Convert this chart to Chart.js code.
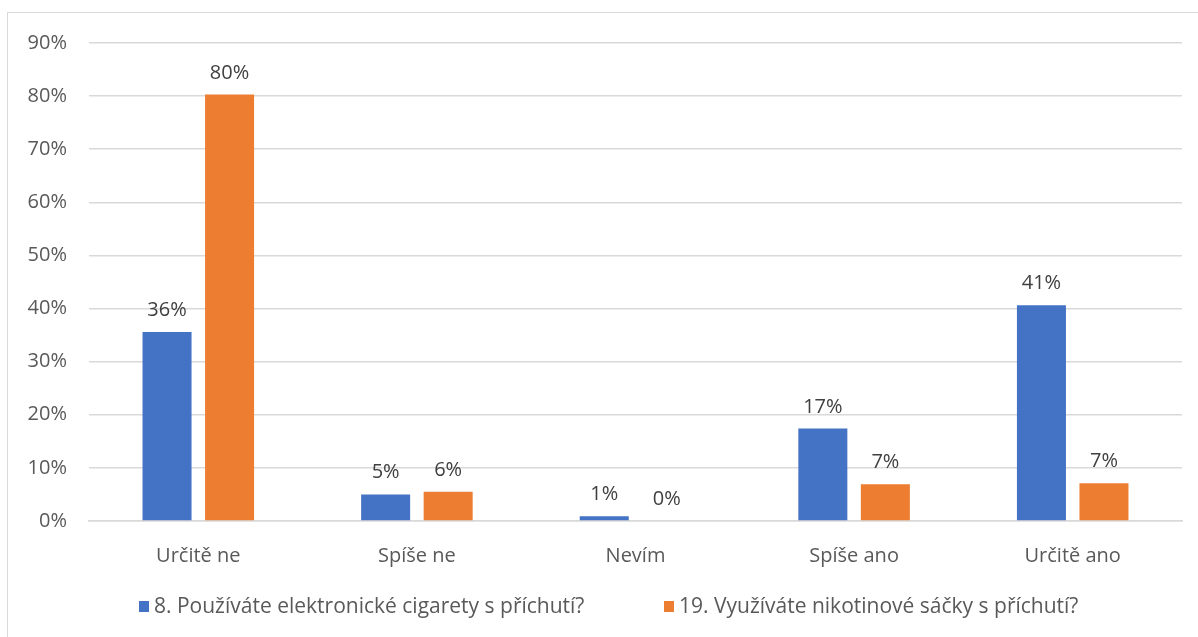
<!DOCTYPE html>
<html>
<head>
<meta charset="utf-8">
<script src="https://cdn.jsdelivr.net/npm/chart.js@4"></script>
<style>
  html, body { margin: 0; padding: 0; background: #ffffff; overflow: hidden; }
  #box { position: absolute; left: 7px; top: 12px; width: 1200px; height: 640px; border: 1px solid #d9d9d9; box-sizing: border-box; }
  #wrap { position: absolute; left: 0; top: 0; width: 1198px; height: 637px; }
</style>
</head>
<body>
<div id="box"></div>
<div id="wrap"><canvas id="c" width="1198" height="637"></canvas></div>
<script>
const categories = ["Určitě ne", "Spíše ne", "Nevím", "Spíše ano", "Určitě ano"];
const seriesNames = ["8. Používáte elektronické cigarety s příchutí?", "19. Využíváte nikotinové sáčky s příchutí?"];
const ecigValues = [35.6, 5.0, 0.9, 17.4, 40.6];
const pouchValues = [80.3, 5.5, 0.0, 6.9, 7.1];
const yTicks = [0, 10, 20, 30, 40, 50, 60, 70, 80, 90];
const seriesColors = ["#4472C4", "#ED7D31"];

const FONT = "'Open Sans', Lato, sans-serif";
const TEXT = "#595959";
const FS = 20;
const LEGEND_FS = 21;

const dataLabels = {
  id: "dataLabels",
  afterDatasetsDraw(chart) {
    const ctx = chart.ctx;
    ctx.save();
    ctx.font = FS + "px " + FONT;
    ctx.fillStyle = "#404040";
    ctx.textAlign = "center";
    ctx.textBaseline = "alphabetic";
    chart.data.datasets.forEach((ds, i) => {
      const meta = chart.getDatasetMeta(i);
      meta.data.forEach((el, j) => {
        ctx.fillText(Math.round(ds.data[j]) + "%", el.x, el.y - 16);
      });
    });
    ctx.restore();
  }
};

const bottomLegend = {
  id: "bottomLegend",
  afterDraw(chart) {
    const ctx = chart.ctx;
    ctx.save();
    ctx.font = LEGEND_FS + "px " + FONT;
    const box = 10, textGap = 5, cy = 607;
    const starts = [139, 664];
    ctx.textBaseline = "middle";
    ctx.textAlign = "left";
    chart.data.datasets.forEach((ds, i) => {
      const x = starts[i];
      ctx.fillStyle = ds.backgroundColor;
      ctx.fillRect(x, cy - 6, box, 11);
      ctx.fillStyle = TEXT;
      ctx.fillText(ds.label, x + box + textGap, cy);
    });
    ctx.restore();
  }
};

new Chart(document.getElementById("c"), {
  type: "bar",
  data: {
    labels: categories,
    datasets: [
      { label: seriesNames[0], data: ecigValues, backgroundColor: seriesColors[0], categoryPercentage: 0.572, barPercentage: 0.784 },
      { label: seriesNames[1], data: pouchValues, backgroundColor: seriesColors[1], categoryPercentage: 0.572, barPercentage: 0.784 }
    ]
  },
  options: {
    responsive: false,
    animation: false,
    layout: { padding: { left: 0, right: 16, top: 43, bottom: 56 } },
    plugins: {
      tooltip: { enabled: false },
      legend: { display: false }
    },
    scales: {
      x: {
        grid: { display: false },
        border: { display: true, color: "#d9d9d9", width: 1.5 },
        ticks: { font: { family: FONT, size: FS }, color: TEXT, padding: 15 },
        afterFit(s) { s.height = 60; }
      },
      y: {
        min: 0, max: 90,
        afterBuildTicks(s) { s.ticks = yTicks.map(v => ({ value: v })); },
        grid: { color: "#d9d9d9", lineWidth: 1.5, drawTicks: false },
        border: { display: false },
        ticks: { font: { family: FONT, size: FS }, color: TEXT, padding: 22, callback: v => v + "%" },
        afterFit(s) { s.width = 89; }
      }
    }
  },
  plugins: [dataLabels, bottomLegend]
});
</script>
</body>
</html>
